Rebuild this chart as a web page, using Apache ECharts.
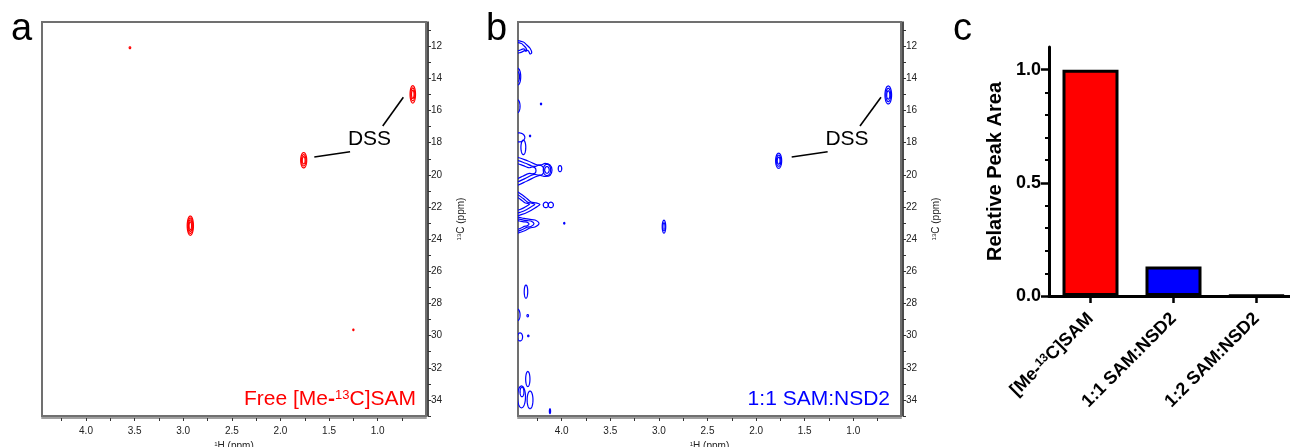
<!DOCTYPE html>
<html><head><meta charset="utf-8">
<script src="https://cdn.jsdelivr.net/npm/echarts@6/dist/echarts.min.js"></script>
<style>html,body{margin:0;padding:0;background:#fff}#c{width:1290px;height:447px}</style>
</head><body><div id="c"></div>
<script>
// ---------------- data ----------------
const hTicksMajor = [1.0, 1.5, 2.0, 2.5, 3.0, 3.5, 4.0];
const hTicksAll = [0.75, 1.0, 1.25, 1.5, 1.75, 2.0, 2.25, 2.5, 2.75, 3.0, 3.25, 3.5, 3.75, 4.0, 4.25];
const cTicksMajor = [12, 14, 16, 18, 20, 22, 24, 26, 28, 30, 32, 34];
const cTicksAll = [11, 12, 13, 14, 15, 16, 17, 18, 19, 20, 21, 22, 23, 24, 25, 26, 27, 28, 29, 30, 31, 32, 33, 34, 35];

// peaks: [1H ppm, 13C ppm, half-width 1H, half-width 13C, contour rings]
const peaksFree = [
  [0.639, 14.99, 0.028, 0.54, 3],
  [1.761, 19.09, 0.031, 0.48, 3],
  [2.927, 23.16, 0.032, 0.60, 4],
  [3.548, 12.09, 0.008, 0.06, 1],
  [1.250, 29.64, 0.006, 0.05, 1]
];
const peaksNSD2 = [
  [0.640, 15.03, 0.034, 0.56, 3],
  [1.768, 19.12, 0.031, 0.47, 3],
  [2.948, 23.22, 0.018, 0.40, 2],
  [4.453, 13.89, 0.031, 0.52, 2],
  [4.453, 15.73, 0.024, 0.39, 1],
  [4.213, 15.59, 0.006, 0.05, 1],
  [4.395, 18.29, 0.025, 0.45, 1],
  [4.440, 17.67, 0.060, 0.28, 1],
  [4.326, 17.58, 0.006, 0.05, 1],
  [4.152, 19.69, 0.038, 0.35, 2],
  [4.018, 19.61, 0.018, 0.19, 1],
  [4.164, 21.87, 0.026, 0.17, 1],
  [4.112, 21.87, 0.026, 0.17, 1],
  [3.974, 23.01, 0.006, 0.05, 1],
  [4.368, 27.26, 0.018, 0.41, 1],
  [4.453, 28.71, 0.024, 0.35, 1],
  [4.350, 28.76, 0.008, 0.07, 1],
  [4.429, 30.08, 0.026, 0.25, 1],
  [4.344, 30.02, 0.007, 0.05, 1],
  [4.349, 32.70, 0.022, 0.47, 1],
  [4.414, 33.81, 0.041, 0.68, 1],
  [4.409, 33.50, 0.020, 0.30, 1],
  [4.326, 34.00, 0.030, 0.55, 1],
  [4.121, 34.70, 0.005, 0.15, 1]
];
// irregular contour outlines near the left edge (panel b): [1H ppm, 13C ppm]
const blobTop = [[4.48, 11.672], [4.395, 11.734], [4.360, 11.920], [4.326, 12.126], [4.309, 12.399], [4.326, 12.480], [4.344, 12.275], [4.378, 12.275], [4.429, 12.399], [4.48, 12.399]];
const blob197 = [[4.48, 18.948], [4.347, 19.134], [4.265, 19.352], [4.213, 19.383], [4.172, 19.290], [4.121, 19.383], [4.100, 19.694], [4.121, 20.036], [4.172, 20.098], [4.224, 20.036], [4.275, 20.129], [4.357, 20.378], [4.48, 20.627]];
const blob218 = [[4.48, 21.031], [4.378, 21.373], [4.316, 21.684], [4.265, 21.746], [4.224, 21.839], [4.275, 22.057], [4.337, 22.275], [4.409, 22.461], [4.48, 22.524]];
const blob231 = [[4.48, 22.648], [4.388, 22.710], [4.327, 22.772], [4.275, 22.803], [4.234, 23.021], [4.275, 23.239], [4.327, 23.301], [4.388, 23.488], [4.48, 23.612]];
const blobAnchors = [[4.453, 12.0], [4.453, 19.75], [4.453, 21.8], [4.453, 23.1]];
const blobRings = [2, 3, 3, 3];

const dssLinesA = [[[1.652, 18.89], [1.284, 18.56]], [[0.948, 16.96], [0.736, 15.17]]];
const dssLabelA = [1.084, 17.77];
const dssLinesB = [[[1.634, 18.89], [1.264, 18.56]], [[0.931, 16.96], [0.715, 15.17]]];
const dssLabelB = [1.065, 17.77];

const barCategories = ['[Me-13C]SAM', '1:1 SAM:NSD2', '1:2 SAM:NSD2'];
const barValues = [1.0, 0.13, 0.003];
const barColors = ['#ff0000', '#0000ff', '#ffffff'];
const barMajorTicks = [0, 0.5, 1.0];
const barMinorTicks = [0.1, 0.2, 0.3, 0.4, 0.6, 0.7, 0.8, 0.9];

// ---------------- chart ----------------
const FONT = '"Liberation Sans", Arial, Helvetica, sans-serif';
const chart = echarts.init(document.getElementById('c'), null, {renderer: 'canvas'});

function nmrX(gi, min, max) {
  return {
    gridIndex: gi, type: 'value', inverse: true, min, max, position: 'bottom', offset: 2,
    axisLine: {show: true, onZero: false, lineStyle: {color: '#a0a0a0', width: 2}},
    axisTick: {show: true, customValues: hTicksAll, length: 3, lineStyle: {color: '#333', width: 1}},
    axisLabel: {show: true, customValues: hTicksMajor, formatter: v => Number(v).toFixed(1), fontSize: 10, color: '#222', margin: 8, fontFamily: FONT},
    splitLine: {show: false},
    name: '{s|1}{n|H (ppm)}', nameLocation: 'middle', nameGap: 19,
    nameTextStyle: {fontFamily: FONT, rich: {s: {fontSize: 6, verticalAlign: 'top', fontFamily: FONT, color: '#222'}, n: {fontSize: 10, fontFamily: FONT, color: '#222'}}}
  };
}
function nmrY(gi) {
  return {
    gridIndex: gi, type: 'value', inverse: true, min: 10.49, max: 35.0, position: 'right', offset: 2,
    axisLine: {show: true, onZero: false, lineStyle: {color: '#111', width: 1.5}},
    axisTick: {show: true, customValues: cTicksAll, length: 3, lineStyle: {color: '#333', width: 1}},
    axisLabel: {show: true, customValues: cTicksMajor, fontSize: 10, color: '#222', margin: 3, fontFamily: FONT},
    splitLine: {show: false},
    name: '{s|13}{n|C (ppm)}', nameLocation: 'middle', nameGap: 28, nameRotate: 90,
    nameTextStyle: {fontFamily: FONT, rich: {s: {fontSize: 6, verticalAlign: 'top', fontFamily: FONT, color: '#222'}, n: {fontSize: 10, fontFamily: FONT, color: '#222'}}}
  };
}

function ellipsePts(c, rx, ry) {
  const pts = [];
  for (let i = 0; i < 60; i++) {
    const t = i / 60 * Math.PI * 2;
    pts.push([c[0] + rx * Math.cos(t), c[1] + ry * Math.sin(t)]);
  }
  return pts;
}
function peakSeries(data, gi, color) {
  return {
    type: 'custom', xAxisIndex: gi, yAxisIndex: gi, clip: true, silent: true, data,
    renderItem(params, api) {
      const c = api.coord([api.value(0), api.value(1)]);
      const s = api.size([api.value(2), api.value(3)]);
      const rx = Math.max(Math.abs(s[0]), 0.6), ry = Math.max(Math.abs(s[1]), 0.6);
      const n = api.value(4);
      const children = [];
      for (let k = 0; k < n; k++) {
        const f = 1 - k * 0.8 / n;
        children.push({type: 'polygon', shape: {points: ellipsePts(c, rx * f, ry * f)},
          style: {fill: 'none', stroke: color, lineWidth: 1.2}});
      }
      return {type: 'group', children};
    }
  };
}
const blobs = [blobTop, blob197, blob218, blob231];
function blobSeries(gi, color) {
  return {
    type: 'custom', xAxisIndex: gi, yAxisIndex: gi, clip: true, silent: true, data: blobAnchors,
    renderItem(params, api) {
      const i = params.dataIndex;
      const a = api.coord(blobAnchors[i]);
      const raw = blobs[i].map(p => api.coord(p));
      const n = blobRings[i];
      const children = [];
      for (let k = 0; k < n; k++) {
        const f = 1 - k * 0.7 / n;
        const pts = raw.map(p => [a[0] + (p[0] - a[0]) * f, a[1] + (p[1] - a[1]) * f]);
        children.push({type: 'polygon', shape: {points: pts, smooth: 0.3},
          style: {fill: 'none', stroke: color, lineWidth: 1.2}});
      }
      return {type: 'group', children};
    }
  };
}
function dssSeries(lines, label, gi) {
  const out = lines.map(l => ({
    type: 'line', xAxisIndex: gi, yAxisIndex: gi, data: l, symbol: 'none', silent: true,
    lineStyle: {color: '#000', width: 1.6}
  }));
  out.push({
    type: 'scatter', xAxisIndex: gi, yAxisIndex: gi, data: [label], symbolSize: 0, silent: true,
    itemStyle: {opacity: 1},
    label: {show: true, position: 'inside', formatter: 'DSS', fontSize: 21, color: '#000', opacity: 1,
      textBorderWidth: 0, fontFamily: FONT}
  });
  return out;
}

const option = {
  animation: false,
  backgroundColor: '#fff',
  grid: [
    {left: 42, top: 22, width: 384, height: 394, outerBoundsMode: 'none', containLabel: false, show: true, borderColor: '#707070', borderWidth: 2, backgroundColor: 'transparent'},
    {left: 518, top: 22, width: 383, height: 394, outerBoundsMode: 'none', containLabel: false, show: true, borderColor: '#707070', borderWidth: 2, backgroundColor: 'transparent'},
    {left: 1049, top: 47, width: 249, height: 249, outerBoundsMode: 'none', containLabel: false}
  ],
  xAxis: [
    nmrX(0, 0.503, 4.4525),
    nmrX(1, 0.509, 4.45),
    {
      gridIndex: 2, type: 'category', data: barCategories, position: 'bottom',
      axisLine: {show: true, lineStyle: {color: '#000', width: 3}},
      axisTick: {show: true, alignWithLabel: true, length: 7, lineStyle: {color: '#000', width: 2.5}},
      axisLabel: {rotate: 45, margin: 20, interval: 0, color: '#000',
        formatter: v => v.indexOf('13C') >= 0 ? '{b|[Me-}{s|13}{b|C]SAM}' : '{b|' + v + '}',
        rich: {b: {fontSize: 18, fontWeight: 'bold', fontFamily: FONT, color: '#000'},
               s: {fontSize: 12, fontWeight: 'bold', fontFamily: FONT, color: '#000', verticalAlign: 'top'}}}
    },
    {
      gridIndex: 2, type: 'category', data: barCategories, position: 'top',
      axisLine: {show: true, lineStyle: {color: '#000', width: 2}},
      axisTick: {show: false}, axisLabel: {show: false}
    }
  ],
  yAxis: [
    nmrY(0),
    nmrY(1),
    {
      gridIndex: 2, type: 'value', min: 0, max: 1.1, position: 'left',
      axisLine: {show: true, lineStyle: {color: '#000', width: 3}},
      axisTick: {show: true, customValues: barMajorTicks, length: 8, lineStyle: {color: '#000', width: 2.5}},
      axisLabel: {show: true, customValues: barMajorTicks, formatter: v => Number(v).toFixed(1),
        fontSize: 18, fontWeight: 'bold', color: '#000', margin: 8, fontFamily: FONT},
      splitLine: {show: false},
      name: 'Relative Peak Area', nameLocation: 'middle', nameGap: 44, nameRotate: 90,
      nameTextStyle: {fontSize: 20, fontWeight: 'bold', color: '#000', fontFamily: FONT}
    },
    {
      gridIndex: 2, type: 'value', min: 0, max: 1.1, position: 'left',
      axisLine: {show: false},
      axisTick: {show: true, customValues: barMinorTicks, length: 4, lineStyle: {color: '#000', width: 2}},
      axisLabel: {show: false}, splitLine: {show: false}
    }
  ],
  series: [
    peakSeries(peaksFree, 0, '#ff0000'),
    ...dssSeries(dssLinesA, dssLabelA, 0),
    peakSeries(peaksNSD2, 1, '#0000ff'),
    blobSeries(1, '#0000ff'),
    ...dssSeries(dssLinesB, dssLabelB, 1),
    {
      type: 'bar', xAxisIndex: 2, yAxisIndex: 2, barWidth: 56, silent: true,
      data: barValues.map((v, i) => ({value: v, itemStyle: {color: barColors[i]}})),
      itemStyle: {borderColor: '#000', borderWidth: 3}
    }
  ],
  graphic: [
    {type: 'text', left: 11, top: 11, style: {text: 'a', fontSize: 38, fontFamily: FONT, fill: '#000'}},
    {type: 'text', left: 486, top: 11, style: {text: 'b', fontSize: 38, fontFamily: FONT, fill: '#000'}},
    {type: 'text', left: 953, top: 11, style: {text: 'c', fontSize: 38, fontFamily: FONT, fill: '#000'}},
    {type: 'text', right: 874, top: 389, style: {text: '{n|Free [Me}{h|-}{s|13}{n|C]SAM}', fill: '#ff0000',
      rich: {n: {fontSize: 21, fontFamily: FONT, fill: '#ff0000'}, h: {fontSize: 21, fontWeight: 'bold', fontFamily: FONT, fill: '#ff0000'},
             s: {fontSize: 13, fontFamily: FONT, fill: '#ff0000', verticalAlign: 'top'}}}},
    {type: 'text', right: 400, top: 389, style: {text: '1:1 SAM:NSD2', fontSize: 21, fontFamily: FONT, fill: '#0000ff'}}
  ]
};
chart.setOption(option);
</script>
</body></html>
